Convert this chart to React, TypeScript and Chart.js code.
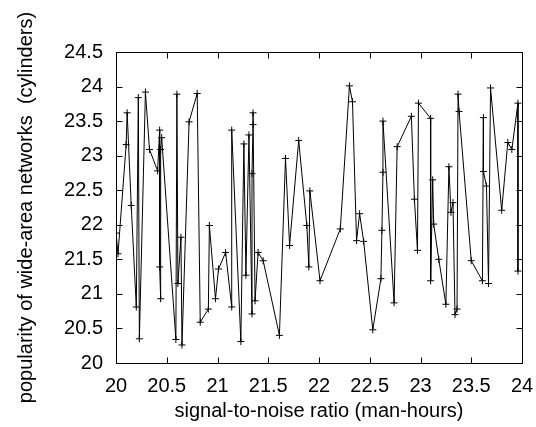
import React, { useEffect, useRef } from "react";
import { Chart, registerables } from "chart.js";

Chart.register(...registerables);

const xValues: number[] = [
  20.0, 20.02, 20.1, 20.11, 20.15, 20.2, 20.22, 20.23, 20.29, 20.33,
  20.41, 20.43, 20.43, 20.44, 20.44, 20.45, 20.59, 20.6, 20.61, 20.64,
  20.65, 20.72, 20.8, 20.83, 20.91, 20.92, 20.98, 21.01, 21.08, 21.14,
  21.14, 21.23, 21.26, 21.28, 21.31, 21.34, 21.34, 21.35, 21.35, 21.37,
  21.4, 21.45, 21.61, 21.67, 21.71, 21.8, 21.88, 21.9, 21.91, 22.01,
  22.21, 22.3, 22.33, 22.37, 22.4, 22.44, 22.53, 22.61, 22.62, 22.63,
  22.63, 22.74, 22.77, 22.91, 22.94, 22.97, 22.98, 23.1, 23.1, 23.12,
  23.13, 23.18, 23.25, 23.28, 23.3, 23.32, 23.34, 23.36, 23.37, 23.38,
  23.5, 23.61, 23.62, 23.62, 23.65, 23.67, 23.69, 23.8, 23.86, 23.9,
  23.96, 23.96,
];

const yValues: number[] = [
  21.88, 21.58, 23.16, 23.62, 22.28, 20.81, 23.84, 20.35, 23.92, 23.09,
  22.78, 23.37, 21.39, 20.93, 23.09, 23.26, 20.34, 23.89, 21.15, 21.82,
  20.26, 23.49, 23.9, 20.59, 20.78, 21.99, 20.93, 21.36, 21.6, 20.81,
  23.37, 20.31, 23.17, 21.27, 23.3, 20.71, 22.74, 23.45, 23.62, 20.9,
  21.6, 21.48, 20.4, 22.96, 21.7, 23.22, 21.99, 21.39, 22.49, 21.19,
  21.94, 24.01, 23.78, 21.77, 22.16, 21.76, 20.48, 21.22, 21.92, 22.76,
  23.5, 20.87, 23.13, 23.57, 22.37, 21.63, 23.76, 23.54, 21.19, 22.65,
  22.01, 21.5, 20.85, 22.84, 22.18, 22.32, 20.7, 20.78, 23.89, 23.64,
  21.48, 21.19, 23.55, 22.77, 22.56, 21.15, 23.98, 22.21, 23.19, 23.09,
  23.76, 21.33,
];

const xTicks: number[] = [20, 20.5, 21, 21.5, 22, 22.5, 23, 23.5, 24];
const yTicks: number[] = [20, 20.5, 21, 21.5, 22, 22.5, 23, 23.5, 24, 24.5];

const xTitle = "signal-to-noise ratio (man-hours)";
const yTitle = "popularity of wide-area networks  (cylinders)";

const FONT = '"Liberation Sans", Arial, Helvetica, sans-serif';

const frameTicks = {
  id: "frameTicks",
  afterDatasetsDraw(chart: any) {
    const { ctx, chartArea } = chart;
    const { left, right, top, bottom } = chartArea;
    const xs = chart.scales.x;
    const ys = chart.scales.y;
    const len = 6;
    ctx.save();
    ctx.strokeStyle = "#000";
    ctx.lineWidth = 1;
    ctx.beginPath();
    const L = Math.round(left) + 0.5;
    const R = Math.round(right) + 0.5;
    const T = Math.round(top) + 0.5;
    const B = Math.round(bottom) + 0.5;
    ctx.rect(L, T, R - L, B - T);
    xs.ticks.forEach((t: any) => {
      const p = Math.round(xs.getPixelForValue(t.value)) + 0.5;
      ctx.moveTo(p, B);
      ctx.lineTo(p, B - len);
      ctx.moveTo(p, T);
      ctx.lineTo(p, T + len);
    });
    ys.ticks.forEach((t: any) => {
      const p = Math.round(ys.getPixelForValue(t.value)) + 0.5;
      ctx.moveTo(L, p);
      ctx.lineTo(L + len, p);
      ctx.moveTo(R, p);
      ctx.lineTo(R - len, p);
    });
    ctx.stroke();
    ctx.restore();
  },
};

export default function App() {
  const canvasRef = useRef<HTMLCanvasElement | null>(null);

  useEffect(() => {
    document.body.style.margin = "0";
    const canvas = canvasRef.current;
    if (!canvas) return;
    const points = xValues.map((x, i) => ({ x, y: yValues[i] }));
    const chart = new Chart(canvas, {
      type: "scatter",
      data: {
        datasets: [
          {
            data: points,
            showLine: true,
            borderColor: "#000",
            borderWidth: 1,
            backgroundColor: "#000",
            pointStyle: "cross",
            pointRadius: 3.5,
            pointBorderWidth: 1,
            pointBorderColor: "#000",
            tension: 0,
          },
        ],
      },
      options: {
        responsive: false,
        animation: false,
        devicePixelRatio: 1,
        layout: { padding: { left: 0, right: 14, top: 52, bottom: 0 } },
        plugins: {
          legend: { display: false },
          tooltip: { enabled: false },
        },
        scales: {
          x: {
            type: "linear",
            min: 20,
            max: 24,
            afterBuildTicks: (scale: any) => {
              scale.ticks = xTicks.map((v) => ({ value: v }));
            },
            afterFit: (scale: any) => {
              scale.height = 64;
              scale.paddingLeft = 0;
              scale.paddingRight = 0;
            },
            grid: { display: false, drawTicks: false },
            border: { display: false },
            ticks: {
              color: "#000",
              font: { family: FONT, size: 20 },
              padding: 11,
              maxRotation: 0,
              autoSkip: false,
              callback: (v: any) => String(v),
            },
            title: {
              display: true,
              text: xTitle,
              color: "#000",
              font: { family: FONT, size: 20 },
              padding: { top: 0, bottom: 4 },
            },
          },
          y: {
            type: "linear",
            min: 20,
            max: 24.5,
            afterBuildTicks: (scale: any) => {
              scale.ticks = yTicks.map((v) => ({ value: v }));
            },
            afterFit: (scale: any) => {
              scale.width = 116;
              scale.paddingTop = 0;
              scale.paddingBottom = 0;
            },
            grid: { display: false, drawTicks: false },
            border: { display: false },
            ticks: {
              color: "#000",
              font: { family: FONT, size: 20 },
              padding: 13,
              autoSkip: false,
              callback: (v: any) => String(v),
            },
            title: {
              display: true,
              text: yTitle,
              color: "#000",
              font: { family: FONT, size: 20 },
              padding: { top: 14, bottom: 0 },
            },
          },
        },
      },
      plugins: [frameTicks],
    });
    return () => chart.destroy();
  }, []);

  return (
    <div style={{ width: 536, height: 427, background: "#fff" }}>
      <canvas ref={canvasRef} width={536} height={427} style={{ display: "block" }} />
    </div>
  );
}
